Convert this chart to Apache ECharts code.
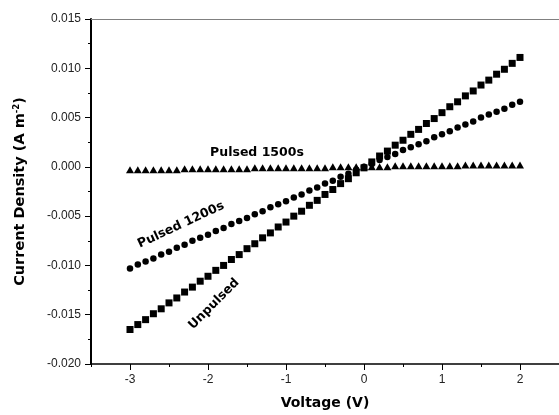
<!DOCTYPE html>
<html>
<head>
<meta charset="utf-8">
<script src="https://cdn.jsdelivr.net/npm/echarts@6/dist/echarts.min.js"></script>
<style>html,body{margin:0;padding:0;background:#fff}#c{width:559px;height:415px}</style>
</head>
<body>
<div id="c"></div>
<script>
const voltage = [-3.0,-2.9,-2.8,-2.7,-2.6,-2.5,-2.4,-2.3,-2.2,-2.1,-2.0,-1.9,-1.8,-1.7,-1.6,-1.5,-1.4,-1.3,-1.2,-1.1,-1.0,-0.9,-0.8,-0.7,-0.6,-0.5,-0.4,-0.3,-0.2,-0.1,0.0,0.1,0.2,0.3,0.4,0.5,0.6,0.7,0.8,0.9,1.0,1.1,1.2,1.3,1.4,1.5,1.6,1.7,1.8,1.9,2.0];
const unpulsed = [-0.0165,-0.0160,-0.0155,-0.0149,-0.0144,-0.0138,-0.0133,-0.0127,-0.0122,-0.0116,-0.0111,-0.0105,-0.0100,-0.0094,-0.0089,-0.0083,-0.0078,-0.0072,-0.0067,-0.0061,-0.0056,-0.0050,-0.0045,-0.0039,-0.0034,-0.0028,-0.0023,-0.0017,-0.0012,-0.0006,-0.0001,0.0005,0.0011,0.0016,0.0022,0.0027,0.0033,0.0038,0.0044,0.0049,0.0055,0.0061,0.0066,0.0072,0.0077,0.0083,0.0088,0.0094,0.0099,0.0105,0.0111];
const pulsed1200 = [-0.0103,-0.0099,-0.0096,-0.0093,-0.0089,-0.0086,-0.0082,-0.0079,-0.0075,-0.0072,-0.0069,-0.0065,-0.0062,-0.0058,-0.0055,-0.0052,-0.0048,-0.0045,-0.0041,-0.0038,-0.0035,-0.0031,-0.0028,-0.0024,-0.0021,-0.0017,-0.0014,-0.0010,-0.0007,-0.0003,0.0000,0.0003,0.0007,0.0010,0.0013,0.0017,0.0020,0.0023,0.0026,0.0030,0.0033,0.0036,0.0040,0.0043,0.0046,0.0050,0.0053,0.0056,0.0059,0.0063,0.0066];
const pulsed1500 = [-0.0003,-0.0003,-0.0003,-0.0003,-0.0003,-0.0003,-0.0003,-0.0002,-0.0002,-0.0002,-0.0002,-0.0002,-0.0002,-0.0002,-0.0002,-0.0002,-0.0001,-0.0001,-0.0001,-0.0001,-0.0001,-0.0001,-0.0001,-0.0001,-0.0001,-0.0001,0.0000,0.0000,0.0000,0.0000,0.0000,0.0000,0.0000,0.0000,0.0001,0.0001,0.0001,0.0001,0.0001,0.0001,0.0001,0.0001,0.0001,0.0002,0.0002,0.0002,0.0002,0.0002,0.0002,0.0002,0.0002];
const xMajorTicks = [-3,-2,-1,0,1,2];
const xMinorTicks = [-3.5,-2.5,-1.5,-0.5,0.5,1.5,2.5];
const seriesNames = ['Unpulsed','Pulsed 1200s','Pulsed 1500s'];

const pairs = arr => voltage.map((v,i)=>[v,arr[i]]);
const chart = echarts.init(document.getElementById('c'), null, {renderer:'canvas'});
const fontFam = '"Liberation Sans", Arial, sans-serif';
const boldFam = '"DejaVu Sans", sans-serif';
const xBase = {type:'value', min:-3.5, max:2.5, gridIndex:0, splitLine:{show:false}};
chart.setOption({
  animation:false,
  backgroundColor:'#fff',
  grid:{left:91, top:19, right:0, bottom:48},
  xAxis:[
    Object.assign({}, xBase, {
      position:'bottom',
      name:'Voltage (V)', nameLocation:'middle', nameGap:32,
      nameTextStyle:{fontFamily:boldFam, fontWeight:'bold', fontSize:14, color:'#000'},
      axisLine:{show:true, onZero:false, lineStyle:{color:'#000', width:1.5}},
      axisTick:{show:true, inside:false, length:6, lineStyle:{color:'#000', width:1}, customValues:xMajorTicks},
      axisLabel:{show:true, margin:10, fontFamily:fontFam, fontSize:12, color:'#222', customValues:xMajorTicks,
        formatter: v => String(v)}
    }),
    Object.assign({}, xBase, {
      position:'bottom',
      axisLine:{show:false, onZero:false},
      axisTick:{show:true, inside:false, length:3, lineStyle:{color:'#000', width:1}, customValues:xMinorTicks},
      axisLabel:{show:false}
    }),
    Object.assign({}, xBase, {
      position:'top',
      axisLine:{show:true, onZero:false, lineStyle:{color:'#808080', width:1.2}},
      axisTick:{show:false}, axisLabel:{show:false}
    })
  ],
  yAxis:{
    type:'value', min:-0.02, max:0.015, interval:0.005,
    name:'{t|Current Density (A m}{s|-2}{t|)}', nameLocation:'middle', nameGap:62,
    nameTextStyle:{rich:{
      t:{fontFamily:boldFam, fontWeight:'bold', fontSize:14.5, color:'#000'},
      s:{fontFamily:boldFam, fontWeight:'bold', fontSize:8.5, color:'#000', verticalAlign:'top', padding:[0,0,8,0]}
    }},
    axisLine:{show:true, onZero:false, lineStyle:{color:'#000', width:2}},
    axisTick:{show:true, inside:false, length:6, lineStyle:{color:'#000', width:1}},
    minorTick:{show:true, splitNumber:2, length:3, lineStyle:{color:'#000', width:1}},
    splitLine:{show:false},
    axisLabel:{margin:10, fontFamily:fontFam, fontSize:12, color:'#222',
      formatter: v => (Math.abs(v) < 1e-12 ? 0 : v).toFixed(3)}
  },
  series:[
    {name:seriesNames[0], type:'scatter', xAxisIndex:0, symbol:'rect', symbolSize:7,
      itemStyle:{color:'#000', opacity:1}, data:pairs(unpulsed)},
    {name:seriesNames[1], type:'scatter', xAxisIndex:0, symbol:'circle', symbolSize:6.5,
      itemStyle:{color:'#000', opacity:1}, data:pairs(pulsed1200)},
    {name:seriesNames[2], type:'scatter', xAxisIndex:0, symbol:'triangle', symbolSize:[8,7],
      itemStyle:{color:'#000', opacity:1}, data:pairs(pulsed1500)}
  ],
  graphic:[
    {type:'text', x:257, y:153, style:{text:seriesNames[2], font:'bold 12.5px "DejaVu Sans"', fill:'#000', align:'center', verticalAlign:'middle'}},
    {type:'text', x:181, y:225, rotation:25*Math.PI/180, style:{text:seriesNames[1], font:'bold 12.5px "DejaVu Sans"', fill:'#000', align:'center', verticalAlign:'middle'}},
    {type:'text', x:214, y:304, rotation:45*Math.PI/180, style:{text:seriesNames[0], font:'bold 12.5px "DejaVu Sans"', fill:'#000', align:'center', verticalAlign:'middle'}}
  ]
});
</script>
</body>
</html>
